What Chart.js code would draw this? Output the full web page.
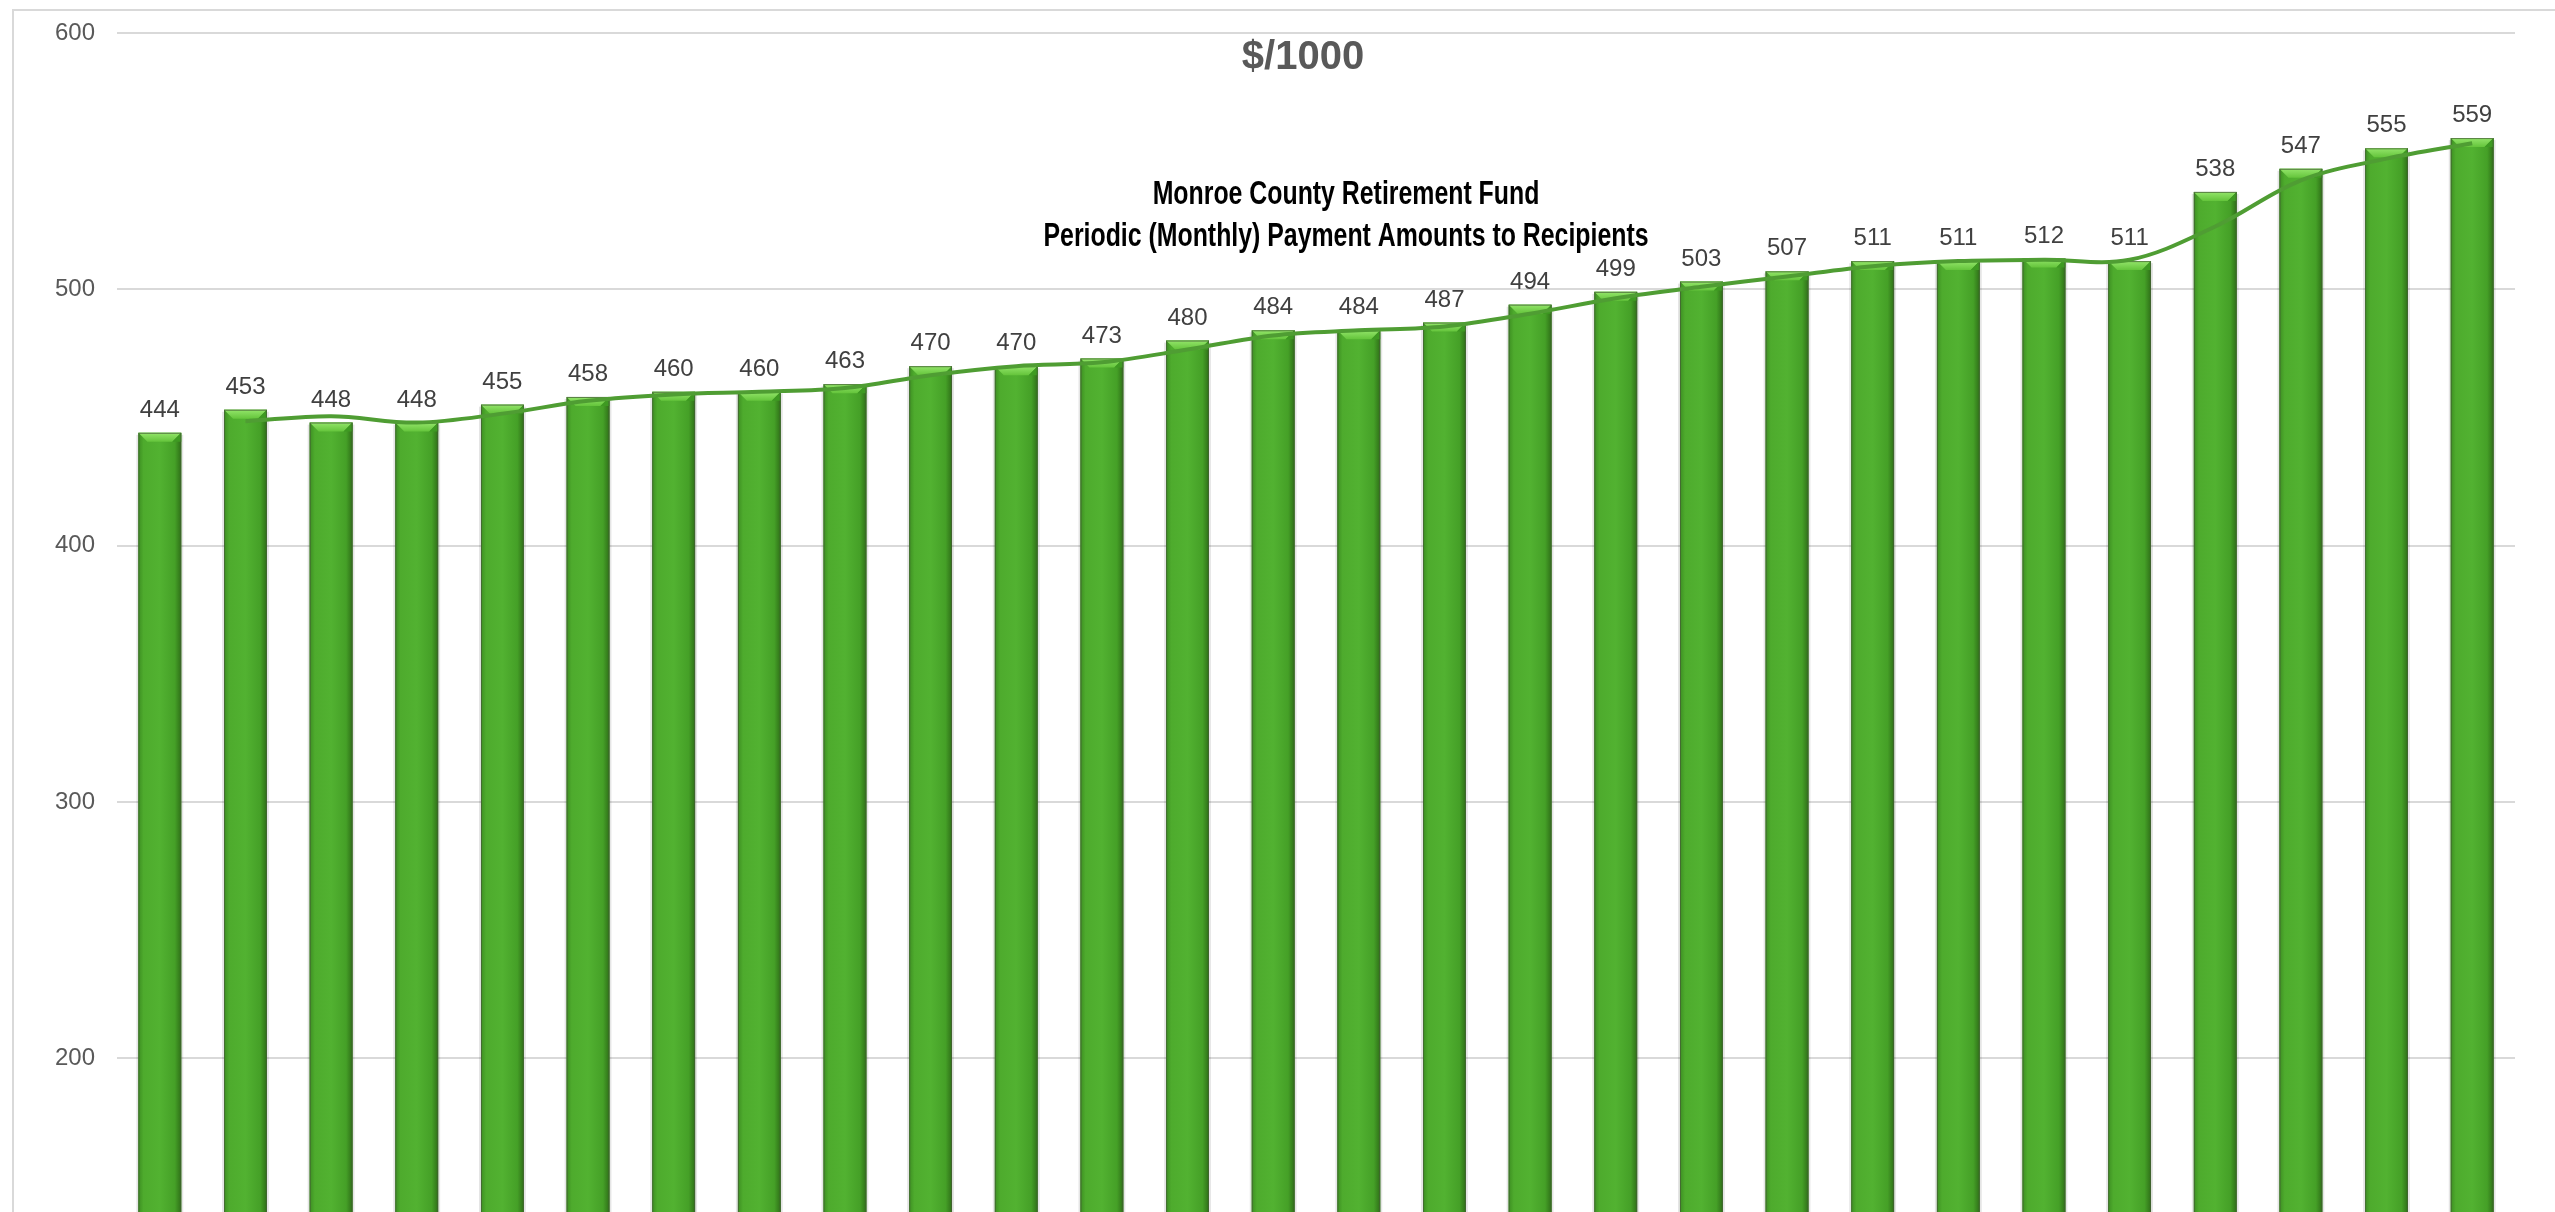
<!DOCTYPE html>
<html>
<head>
<meta charset="utf-8">
<title>Monroe County Retirement Fund</title>
<script src="https://cdn.jsdelivr.net/npm/chart.js@4.4.1/dist/chart.umd.min.js"></script>
<style>
    html, body { margin: 0; padding: 0; background: #ffffff; }
    #chartBody { position: relative; width: 2555px; height: 1212px; }
</style>
</head>
<body>
<div id="chartBody"><canvas id="paymentChart" width="2555" height="1212"></canvas></div>
<script>
"use strict";

// periods (axis labels are cut off in the source, so these are placeholders)
var periodLabels = ['1', '2', '3', '4', '5', '6', '7', '8', '9', '10', '11', '12', '13', '14',
    '15', '16', '17', '18', '19', '20', '21', '22', '23', '24', '25', '26', '27', '28'];

// monthly payment amounts, $/1000
var paymentValues = [444, 453, 448, 448, 455, 458, 460, 460, 463, 470, 470, 473, 480, 484,
    484, 487, 494, 499, 503, 507, 511, 511, 512, 511, 538, 547, 555, 559];

// trend line (starts at the second bar)
var trendValues = [null, 448.5, 450.5, 448, 451.5, 456.5, 459, 460, 461.5, 466.5, 470, 471.5, 476.5, 482,
    484, 485.5, 490.5, 496.5, 501, 505, 509, 511, 511.5, 511.5, 524.5, 542.5, 551, 557];

var yTickValues = [200, 300, 400, 500, 600];

var chartTitle = '$/1000';
var chartSubtitle = ['Monroe County Retirement Fund', 'Periodic (Monthly) Payment Amounts to Recipients'];

var paymentChart = (function () {
    var chart = null;

    var fontFamily = '"Liberation Sans", Arial, sans-serif';
    var gridColor = '#d9d9d9';

    // white background + the outer frame of the excel chart
    var framePlugin = {
        id: 'frame',
        beforeDraw: function (c) {
            var ctx = c.ctx;
            ctx.save();
            ctx.fillStyle = '#ffffff';
            ctx.fillRect(0, 0, c.width, c.height);
            ctx.strokeStyle = gridColor;
            ctx.lineWidth = 2;
            ctx.beginPath();
            ctx.moveTo(13, c.height);
            ctx.lineTo(13, 10);
            ctx.lineTo(c.width, 10);
            ctx.stroke();
            ctx.restore();
        }
    };

    // bevelled green bars
    var barStylePlugin = {
        id: 'barStyle',
        afterDatasetDraw: function (c, args) {
            if (args.meta.type !== 'bar') return;
            var ctx = c.ctx;
            ctx.save();
            args.meta.data.forEach(function (el) {
                var p = el.getProps(['x', 'y', 'base', 'width'], true);
                var left = p.x - p.width / 2;
                var right = p.x + p.width / 2;
                var top = p.y;
                var bottom = p.base;

                // soft shadow
                ctx.fillStyle = 'rgba(0,0,0,0.10)';
                ctx.fillRect(left - 2, top + 2, p.width + 4, bottom - top);

                var body = ctx.createLinearGradient(left, 0, right, 0);
                body.addColorStop(0, '#3d8f22');
                body.addColorStop(0.12, '#4eab2d');
                body.addColorStop(0.5, '#52b231');
                body.addColorStop(0.85, '#45a027');
                body.addColorStop(1, '#2f6f18');
                ctx.fillStyle = body;
                ctx.fillRect(left, top, p.width, bottom - top);

                // top bevel
                var h = 9;
                var bevel = ctx.createLinearGradient(0, top, 0, top + h);
                bevel.addColorStop(0, '#93e56a');
                bevel.addColorStop(1, '#64c43b');
                ctx.fillStyle = bevel;
                ctx.beginPath();
                ctx.moveTo(left, top);
                ctx.lineTo(right, top);
                ctx.lineTo(right - h, top + h);
                ctx.lineTo(left + h, top + h);
                ctx.closePath();
                ctx.fill();

                ctx.fillStyle = '#3e9a22';
                ctx.beginPath();
                ctx.moveTo(right, top);
                ctx.lineTo(right, top + h);
                ctx.lineTo(right - h, top + h);
                ctx.closePath();
                ctx.fill();

                ctx.strokeStyle = 'rgba(70,95,55,0.75)';
                ctx.lineWidth = 1;
                ctx.strokeRect(left + 0.5, top + 0.5, p.width - 1, bottom - top);
            });
            ctx.restore();
        }
    };

    // value labels above the bars and the two titles inside the plot
    var labelPlugin = {
        id: 'valueLabels',
        afterDatasetsDraw: function (c) {
            var ctx = c.ctx;
            var meta = c.getDatasetMeta(1);
            ctx.save();
            ctx.font = '24px ' + fontFamily;
            ctx.fillStyle = '#404040';
            ctx.textAlign = 'center';
            ctx.textBaseline = 'alphabetic';
            meta.data.forEach(function (el, i) {
                ctx.fillText(String(paymentValues[i]), el.x, el.y - 16);
            });

            ctx.font = 'bold 40px ' + fontFamily;
            ctx.fillStyle = '#595959';
            ctx.fillText(chartTitle, 1303, 69);

            // condensed bold subtitle
            ctx.font = 'bold 34px ' + fontFamily;
            ctx.fillStyle = '#000000';
            var sx = 605 / ctx.measureText(chartSubtitle[1]).width;
            var baselines = [204, 246];
            chartSubtitle.forEach(function (line, i) {
                ctx.save();
                ctx.translate(1346, baselines[i]);
                ctx.scale(sx, 1);
                ctx.fillText(line, 0, 0);
                ctx.restore();
            });
            ctx.restore();
        }
    };

    function createChart() {
        var ctx = document.getElementById('paymentChart').getContext('2d');
        chart = new Chart(ctx, {
            type: 'bar',
            data: {
                labels: periodLabels,
                datasets: [
                    {
                        type: 'line',
                        label: 'Trend',
                        data: trendValues,
                        borderColor: '#4f9d33',
                        borderWidth: 4,
                        pointRadius: 0,
                        fill: false,
                        tension: 0.35,
                        spanGaps: false,
                        order: 0
                    }, {
                        type: 'bar',
                        label: '$/1000',
                        data: paymentValues,
                        backgroundColor: '#4dae2c',
                        borderWidth: 0,
                        barPercentage: 0.5,
                        categoryPercentage: 1.0,
                        order: 1
                    }
                ]
            },
            options: {
                responsive: false,
                animation: false,
                devicePixelRatio: 1,
                layout: {
                    padding: { left: 0, top: 33, right: 40, bottom: 0 }
                },
                plugins: {
                    legend: { display: false },
                    tooltip: { enabled: false },
                    title: { display: false }
                },
                scales: {
                    x: {
                        display: false
                    },
                    y: {
                        min: 140,
                        max: 600,
                        border: { display: false },
                        grid: {
                            color: gridColor,
                            lineWidth: 2,
                            drawTicks: false
                        },
                        ticks: {
                            padding: 22,
                            color: '#595959',
                            font: { family: fontFamily, size: 24 }
                        },
                        afterBuildTicks: function (s) {
                            s.ticks = yTickValues.map(function (v) { return { value: v }; });
                        },
                        afterFit: function (s) {
                            s.width = 117;
                            s.paddingTop = 0;
                            s.paddingBottom = 0;
                        }
                    }
                }
            },
            plugins: [framePlugin, barStylePlugin, labelPlugin]
        });
    }

    return {
        showChart: createChart
    };
}());

paymentChart.showChart();
</script>
</body>
</html>
